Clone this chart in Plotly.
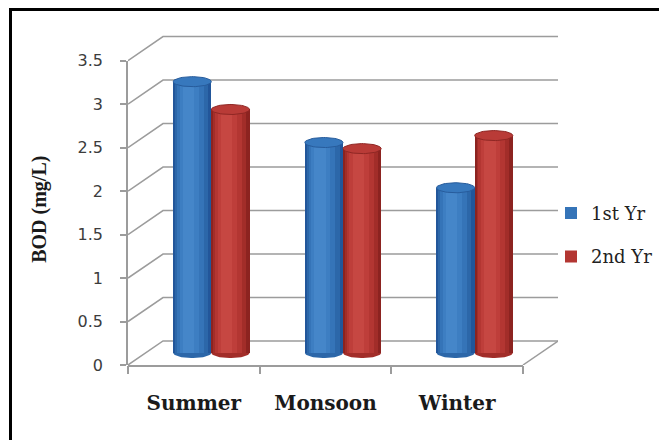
import numpy as np
import plotly.graph_objects as go

# ---------------- data ----------------
categories = ["Summer", "Monsoon", "Winter"]
series_names = ["1st Yr", "2nd Yr"]
yr1 = [3.12, 2.42, 1.90]
yr2 = [2.80, 2.35, 2.50]
y_ticks = [0, 0.5, 1, 1.5, 2, 2.5, 3, 3.5]
y_tick_text = ["0", "0.5", "1", "1.5", "2", "2.5", "3", "3.5"]
y_title = "BOD (mg/L)"

# ---------------- layout constants ----------------
W, H = 659, 440
PLOT_L, PLOT_R, PLOT_B = 128, 558, 365
DX, DY, PAD = 0.266, 0.276, 0.03          # 3D depth offset (axis units)
YMAX = y_ticks[-1]
N = len(categories)
XR = [-0.5, N - 0.5 + DX]
YR = [0, YMAX + DY + PAD]
PX_PER_Y = 86.86
plot_h = PX_PER_Y * (YR[1] - YR[0])
PLOT_T = PLOT_B - plot_h
plot_w = PLOT_R - PLOT_L

BW = 0.29                                  # bar width (x units)
ELL_RY = 5.0 / PX_PER_Y

palettes = [
    dict(layers=["#22569a", "#2c67a9", "#3574b8", "#3d7ec2", "#4586c9"],
         top="#3778bd", rim="#275c9c"),
    dict(layers=["#8c2320", "#a22d29", "#b33632", "#be3e3a", "#c64742"],
         top="#b93b37", rim="#8f2724"),
]
layer_w = [1.0, 0.86, 0.7, 0.5, 0.3]
layer_shift = [0.0, -0.02, -0.05, -0.08, -0.10]   # fraction of BW, highlight to the left

GRID = "#9c9c9c"
fig = go.Figure()

series = [yr1, yr2]
for s, vals in enumerate(series):
    pal = palettes[s]
    side = -0.5 if s == 0 else 0.5
    centre_off = DX / 2 + side * BW
    for li, (fw, sh) in enumerate(zip(layer_w, layer_shift)):
        w = BW * fw
        fig.add_trace(go.Bar(
            x=list(range(N)), y=vals, base=DY / 2,
            width=w, offset=centre_off + sh * BW - w / 2,
            marker=dict(color=pal["layers"][li], line=dict(width=0)),
            name=series_names[s], legendgroup=series_names[s],
            showlegend=(li == 2), hoverinfo="skip",
        ))

# cylinder caps (top ellipses) and rounded bottoms
t = np.linspace(0, 2 * np.pi, 60)
tb = np.linspace(np.pi, 2 * np.pi, 30)
for s, vals in enumerate(series):
    pal = palettes[s]
    side = -0.5 if s == 0 else 0.5
    for i, v in enumerate(vals):
        cx = i + DX / 2 + side * BW
        fig.add_trace(go.Scatter(
            x=list(cx + BW / 2 * np.cos(tb)), y=list(DY / 2 + ELL_RY * np.sin(tb)),
            mode="lines", fill="toself", fillcolor=pal["layers"][1],
            line=dict(width=0, color=pal["layers"][1]),
            showlegend=False, hoverinfo="skip", legendgroup=series_names[s]))
        fig.add_trace(go.Scatter(
            x=list(cx + BW / 2 * np.cos(t)), y=list(v + DY / 2 + ELL_RY * np.sin(t)),
            mode="lines", fill="toself", fillcolor=pal["top"],
            line=dict(width=1, color=pal["rim"]),
            showlegend=False, hoverinfo="skip", legendgroup=series_names[s]))

# invisible anchors so the decorative front axes are drawn
fig.add_trace(go.Scatter(x=[None], y=[None], xaxis="x2", yaxis="y",
                         showlegend=False, hoverinfo="skip"))
fig.add_trace(go.Scatter(x=[None], y=[None], xaxis="x", yaxis="y2",
                         showlegend=False, hoverinfo="skip"))

# 3D grid: front diagonals + back wall lines (below traces)
shapes = []
for v in y_ticks:
    path = f"M {-0.5},{v} L {-0.5 + DX},{v + DY} L {N - 0.5 + DX},{v + DY}"
    shapes.append(dict(type="path", path=path, xref="x", yref="y",
                       line=dict(color=GRID, width=1.5), layer="below"))
shapes.append(dict(type="line", xref="x", yref="y", x0=N - 0.5, y0=0,
                   x1=N - 0.5 + DX, y1=DY, line=dict(color=GRID, width=1.5),
                   layer="below"))
# outer frame (black border, top & left visible)
shapes.append(dict(type="rect", xref="paper", yref="paper",
                   x0=(10.5 - PLOT_L) / plot_w, x1=2.0,
                   y0=-2.0, y1=(PLOT_B - 10) / plot_h,
                   line=dict(color="black", width=3)))

fig.update_layout(
    width=W, height=H,
    margin=dict(l=PLOT_L, r=W - PLOT_R, t=PLOT_T, b=H - PLOT_B, pad=0,
                autoexpand=False),
    paper_bgcolor="white", plot_bgcolor="rgba(0,0,0,0)",
    barmode="overlay", bargap=0,
    shapes=shapes,
    xaxis=dict(range=XR, domain=[0, 1], showgrid=False, zeroline=False,
               showline=False, tickvals=[k - 0.5 for k in range(N + 1)],
               ticks="outside", ticklen=8, tickwidth=1.5, tickcolor=GRID,
               showticklabels=False, anchor="y"),
    xaxis2=dict(range=[-0.5, N - 0.5], domain=[0, N / (N + DX)],
                anchor="y", showgrid=False, zeroline=False,
                showline=True, linecolor=GRID, linewidth=1.5,
                tickvals=list(range(N)),
                ticktext=["<b>" + c + "</b>" for c in categories], ticks="",
                tickfont=dict(family="DejaVu Serif", size=20, color="#1a1a1a"),
                ticklabelstandoff=19),
    yaxis=dict(range=YR, domain=[0, 1], showgrid=False, zeroline=False,
               showline=False, showticklabels=False, ticks=""),
    yaxis2=dict(range=[0, YMAX], domain=[0, YMAX / YR[1]], anchor="x",
                showgrid=False, zeroline=False, showline=True,
                linecolor=GRID, linewidth=1.5,
                tickvals=y_ticks, ticktext=y_tick_text,
                ticks="outside", ticklen=6, tickwidth=1.5, tickcolor=GRID,
                tickfont=dict(family="DejaVu Sans", size=16, color="#3c3c3c"),
                ticklabelstandoff=14),
    legend=dict(x=(551 - PLOT_L) / plot_w, y=(PLOT_B - 195) / plot_h,
                xanchor="left", yanchor="top", traceorder="grouped",
                tracegroupgap=17, bgcolor="rgba(0,0,0,0)",
                font=dict(family="DejaVu Serif", size=18, color="#222222")),
    annotations=[dict(text="<b>" + y_title + "</b>", textangle=-90,
                      xref="paper", yref="paper",
                      x=(40 - PLOT_L) / plot_w, y=(PLOT_B - 210) / plot_h,
                      xanchor="center", yanchor="middle", showarrow=False,
                      font=dict(family="Liberation Serif", size=20,
                                color="#1a1a1a"))],
)

fig.write_html("out.html")
